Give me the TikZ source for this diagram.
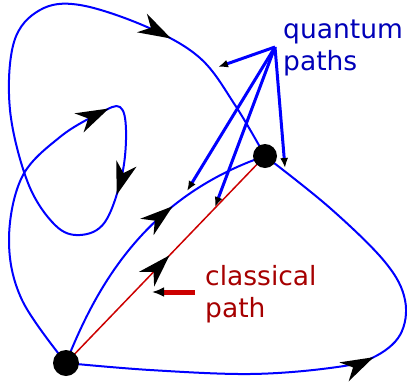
\documentclass[tikz,border=0pt]{standalone}
\usepackage{fontspec}
\setmainfont{DejaVu Sans}
\usetikzlibrary{arrows.meta,decorations.markings}
\definecolor{qblue}{rgb}{0,0,1}
\definecolor{qtext}{rgb}{0,0,0.72}
\definecolor{cred}{rgb}{0.8,0,0}
\definecolor{ctext}{rgb}{0.65,0,0}
\tikzset{
  bigtip/.tip={Stealth[length=33pt,width=21pt,inset=10pt,color=black]},
  qpath/.style={draw=qblue, line width=2pt},
  dot/.style={circle, fill=black, inner sep=0pt, minimum size=#1},
  ptr/.style={line width=3pt, -{Latex[length=10pt,width=8pt,color=black]}},
  lbl/.style={font=\fontsize{26.5pt}{32pt}\selectfont, align=left, inner sep=0pt, anchor=base west},
}
\begin{document}
\begin{tikzpicture}[x=1pt,y=-1pt]
\useasboundingbox (0,0) rectangle (407,381);
\coordinate (A) at (66,363);
\coordinate (B) at (265,156);
% bottom quantum path
\draw[qpath, postaction={decorate}, decoration={markings,
   mark=at position 0.53 with {\arrow{bigtip}}}]
  plot[smooth, tension=0.6] coordinates {(A) (150,370) (250,374) (330,368) (372,358) (400,335) (405,300) (385,262) (330,208) (B)};
% looping quantum path
\draw[qpath, postaction={decorate}, decoration={markings,
   mark=at position 0.306 with {\arrow{bigtip}},
   mark=at position 0.405 with {\arrow{bigtip}},
   mark=at position 0.852 with {\arrow{bigtip}}}]
  plot[smooth, tension=0.6] coordinates {(A) (22,300) (9,240) (22,177) (60,137) (100,113) (120,107) (126,130) (122,175) (105,222) (80,235) (55,225) (28,183) (10,110) (14,42) (40,10) (80,5) (147,27) (200,58) (235,105) (B)};
% middle quantum path
\draw[qpath, postaction={decorate}, decoration={markings,
   mark=at position 0.645 with {\arrow{bigtip}}}]
  (A) .. controls (95,290) and (143,198) .. (B);
% classical path
\draw[cred, line width=1.5pt, postaction={decorate}, decoration={markings,
   mark=at position 0.52 with {\arrow{bigtip}}}] (A) -- (B);
% dots
\node[dot=26pt] (dA) at (A) {};
\node[dot=24pt] (dB) at (B) {};
% quantum pointers
\coordinate (Q) at (275,47);
\coordinate (q1) at (218,67);
\coordinate (q2) at (187,191);
\coordinate (q3) at (215,207);
\coordinate (q4) at (285,168);
\draw[ptr, qblue] (Q) -- (q1);
\draw[ptr, qblue] (Q) -- (q2);
\draw[ptr, qblue] (Q) -- (q3);
\draw[ptr, qblue] (Q) -- (q4);
% classical pointer
\coordinate (c0) at (195,292);
\coordinate (c1) at (152,292);
\draw[ptr, cred, line width=5pt, -{Latex[length=12pt,width=10pt,color=black]}] (c0) -- (c1);
% labels
\node[lbl, text=qtext] (ql) at (283,70) {quantum\\paths};
\node[lbl, text=ctext] (cl) at (205,317) {classical\\path};
\end{tikzpicture}
\end{document}
